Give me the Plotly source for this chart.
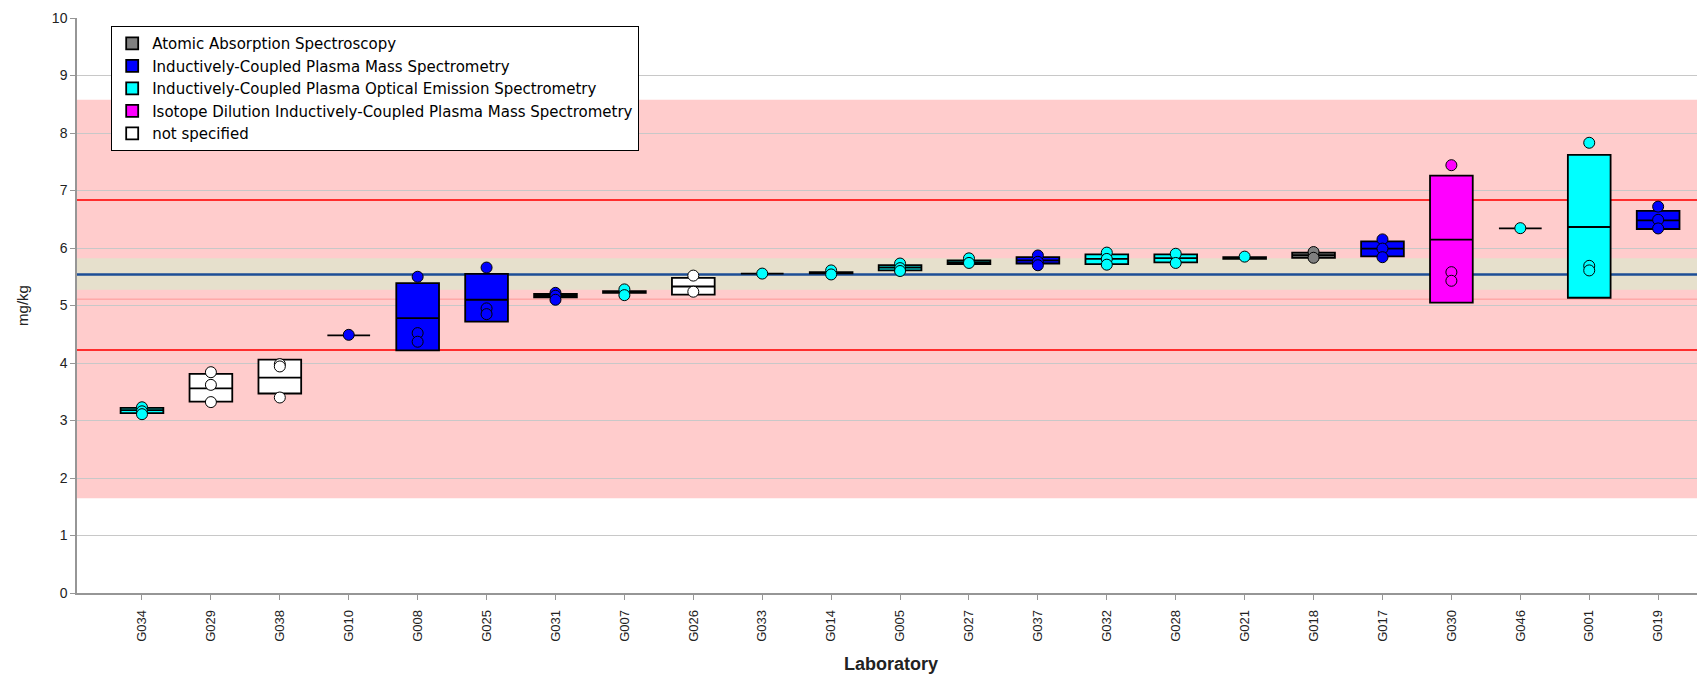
import plotly.graph_objects as go

labs = ["G034", "G029", "G038", "G010", "G008", "G025", "G031", "G007", "G026", "G033",
        "G014", "G005", "G027", "G037", "G032", "G028", "G021", "G018", "G017", "G030",
        "G046", "G001", "G019"]
methods = ["OES", "NS", "NS", "MS", "MS", "MS", "MS", "OES", "NS", "OES",
           "OES", "OES", "OES", "MS", "OES", "OES", "OES", "AAS", "MS", "IDMS",
           "OES", "OES", "MS"]
box_low = [3.13, 3.33, 3.47, 4.48, 4.22, 4.72, 5.14, 5.22, 5.19, 5.555,
           5.56, 5.61, 5.72, 5.73, 5.72, 5.75, 5.81, 5.83, 5.855, 5.05,
           6.34, 5.135, 6.33]
box_mid = [3.18, 3.56, 3.745, 4.48, 4.78, 5.10, 5.17, 5.235, 5.33, 5.555,
           5.57, 5.66, 5.75, 5.785, 5.81, 5.825, 5.825, 5.875, 5.99, 6.145,
           6.34, 6.365, 6.48]
box_high = [3.22, 3.81, 4.06, 4.48, 5.39, 5.55, 5.20, 5.25, 5.48, 5.555,
            5.58, 5.70, 5.785, 5.84, 5.89, 5.89, 5.84, 5.92, 6.115, 7.26,
            6.34, 7.62, 6.645]
points = [[3.23, 3.16, 3.11], [3.84, 3.62, 3.32], [3.98, 3.94, 3.40], [4.49],
          [5.50, 4.52, 4.37], [5.66, 4.95, 4.85], [5.22, 5.17, 5.10], [5.28, 5.18],
          [5.52, 5.24], [5.555], [5.61, 5.54], [5.73, 5.65, 5.60], [5.82, 5.74],
          [5.87, 5.76, 5.70], [5.92, 5.81, 5.71], [5.90, 5.74], [5.85],
          [5.93, 5.83], [6.15, 5.99, 5.84], [7.44, 5.58, 5.43], [6.345],
          [7.83, 5.69, 5.61], [6.72, 6.49, 6.34]]

method_keys = ["AAS", "MS", "OES", "IDMS", "NS"]
method_names = ["Atomic Absorption Spectroscopy",
                "Inductively-Coupled Plasma Mass Spectrometry",
                "Inductively-Coupled Plasma Optical Emission Spectrometry",
                "Isotope Dilution Inductively-Coupled Plasma Mass Spectrometry",
                "not specified"]
method_colors = ["#808080", "#0000ff", "#00ffff", "#ff00ff", "#ffffff"]

assigned = 5.54
band_u = [5.275, 5.82]
limits = [4.225, 6.835]
median_line = 5.11
wide_band = [1.65, 8.58]

fig = go.Figure()

for key, name, col in zip(method_keys, method_names, method_colors):
    idx = [i for i, m in enumerate(methods) if m == key]
    fig.add_trace(go.Box(
        x=[labs[i] for i in idx],
        q1=[box_low[i] for i in idx],
        median=[box_mid[i] for i in idx],
        q3=[box_high[i] for i in idx],
        lowerfence=[box_low[i] for i in idx],
        upperfence=[box_high[i] for i in idx],
        name=name, fillcolor=col, line=dict(color="black", width=1.8),
        width=0.62, boxpoints=False, whiskerwidth=0, hoverinfo="skip",
    ))

for key, col in zip(method_keys, method_colors):
    xs, ys = [], []
    for i, m in enumerate(methods):
        if m == key:
            for v in points[i]:
                xs.append(labs[i])
                ys.append(v)
    fig.add_trace(go.Scatter(
        x=xs, y=ys, mode="markers", showlegend=False,
        marker=dict(size=11, color=col, line=dict(color="black", width=1)),
        hoverinfo="skip",
    ))

shapes = [
    dict(type="rect", xref="paper", x0=0, x1=1, y0=wide_band[0], y1=wide_band[1],
         fillcolor="rgb(255,204,204)", line=dict(width=0), layer="below"),
    dict(type="rect", xref="paper", x0=0, x1=1, y0=band_u[0], y1=band_u[1],
         fillcolor="rgb(230,224,204)", line=dict(width=0), layer="between"),
    dict(type="line", xref="paper", x0=0, x1=1, y0=median_line, y1=median_line,
         line=dict(color="rgb(255,150,150)", width=1), layer="between"),
]
for v in limits:
    shapes.append(dict(type="line", xref="paper", x0=0, x1=1, y0=v, y1=v,
                       line=dict(color="rgb(255,45,45)", width=2), layer="between"))
shapes.append(dict(type="line", xref="paper", x0=0, x1=1, y0=assigned, y1=assigned,
                   line=dict(color="rgb(28,78,150)", width=2.5), layer="between"))

# the page body adds an 8px margin, so the figure is 8px smaller and margins shifted
fig.update_layout(
    width=1697, height=667,
    margin=dict(l=69, r=0, t=10, b=82),
    paper_bgcolor="white", plot_bgcolor="white",
    font=dict(family="Liberation Sans, Arial, sans-serif", size=13, color="#222"),
    shapes=shapes,
    showlegend=True,
    legend=dict(x=0.021, y=0.986, xanchor="left", yanchor="top",
                bgcolor="white", bordercolor="black", borderwidth=1,
                font=dict(family="DejaVu Sans, sans-serif", size=15, color="black"),
                tracegroupgap=0, itemclick=False),
    xaxis=dict(type="category", categoryorder="array", categoryarray=labs,
               range=[-0.943, 22.68], showgrid=False, showline=True,
               linecolor="rgb(150,150,150)", linewidth=1.5,
               ticks="outside", ticklen=5, tickcolor="rgb(150,150,150)",
               tickangle=-90, tickfont=dict(size=13, color="#222"),
               ticklabelstandoff=5,
               title=dict(text="<b>Laboratory</b>", font=dict(size=18, color="#222"),
                          standoff=17)),
    yaxis=dict(range=[0, 10], dtick=1, showgrid=True, gridcolor="rgb(200,200,200)",
               gridwidth=1, zeroline=False, showline=True,
               linecolor="rgb(150,150,150)", linewidth=1.5,
               ticks="outside", ticklen=5, tickcolor="rgb(150,150,150)",
               tickfont=dict(size=14, color="#222"),
               title=dict(text="mg/kg", font=dict(size=15, color="#222"), standoff=20)),
)

fig.write_html("out.html")
